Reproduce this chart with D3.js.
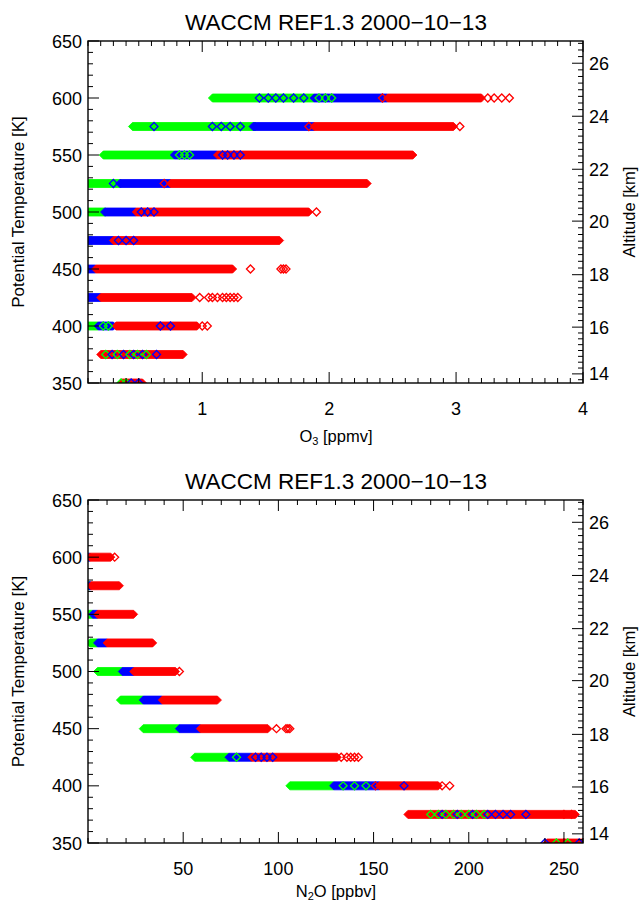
<!DOCTYPE html>
<html>
<head>
<meta charset="utf-8">
<script src="https://cdn.jsdelivr.net/npm/d3@7"></script>
<style>
  html, body { margin: 0; padding: 0; background: #fff; }
  svg { display: block; font-family: "Liberation Sans", Arial, Helvetica, sans-serif; }
</style>
</head>
<body>
<svg id="chart" width="640" height="905"></svg>
<script>
// Potential temperature levels (K), one row of markers per level
const thetaLevels = [600, 575, 550, 525, 500, 475, 450, 425, 400, 375, 350];

// O3 (ppmv): extent of the dense marker runs per level and colour
const o3GreenLo = [1.08, 0.45, 0.22, 0.10, 0.10, 0.10, null, null, 0.10, null, null];
const o3GreenHi = [1.88, 1.42, 0.78, 0.36, 0.24, 0.13, null, null, 0.18, null, null];
const o3BlueLo  = [1.88, 1.40, 0.78, 0.35, 0.23, 0.10, 0.10, 0.10, 0.18, null, null];
const o3BlueHi  = [2.46, 1.88, 1.12, 0.75, 0.48, 0.30, 0.16, 0.20, 0.30, null, null];
const o3RedLo   = [2.46, 1.88, 1.12, 0.75, 0.48, 0.30, 0.16, 0.20, 0.32, 0.20, 0.36];
const o3RedHi   = [3.20, 2.98, 2.66, 2.30, 1.84, 1.61, 1.24, 0.92, 0.96, 0.85, 0.53];

// O3 (ppmv): individual markers [theta, value, colour]
const o3Points = [
  [600, 1.45, "b"], [600, 1.52, "b"], [600, 1.58, "b"], [600, 1.64, "b"], [600, 1.72, "b"],
  [600, 1.80, "b"], [600, 1.92, "g"], [600, 1.97, "g"], [600, 2.02, "g"],
  [600, 2.42, "r"], [600, 3.25, "r"], [600, 3.30, "r"], [600, 3.36, "r"], [600, 3.42, "r"],
  [575, 0.62, "b"], [575, 1.08, "b"], [575, 1.15, "b"], [575, 1.22, "b"], [575, 1.30, "b"],
  [575, 1.84, "r"], [575, 3.03, "r"],
  [550, 0.82, "g"], [550, 0.86, "g"], [550, 0.90, "g"],
  [550, 1.16, "b"], [550, 1.20, "b"], [550, 1.25, "b"], [550, 1.30, "b"],
  [525, 0.30, "b"], [525, 0.70, "r"],
  [500, 0.52, "b"], [500, 0.57, "b"], [500, 0.62, "b"], [500, 1.90, "r"],
  [475, 0.34, "b"], [475, 0.40, "b"], [475, 0.46, "b"],
  [450, 1.38, "r"], [450, 1.62, "r"], [450, 1.64, "r"], [450, 1.66, "r"],
  [425, 0.98, "r"], [425, 1.05, "r"], [425, 1.08, "r"], [425, 1.12, "r"], [425, 1.16, "r"],
  [425, 1.19, "r"], [425, 1.22, "r"], [425, 1.25, "r"], [425, 1.28, "r"],
  [400, 0.22, "g"], [400, 0.26, "g"], [400, 0.67, "b"], [400, 0.75, "b"],
  [400, 1.00, "r"], [400, 1.04, "r"],
  [375, 0.24, "g"], [375, 0.29, "b"], [375, 0.33, "g"], [375, 0.38, "b"], [375, 0.43, "g"],
  [375, 0.46, "b"], [375, 0.49, "g"], [375, 0.53, "b"], [375, 0.56, "g"], [375, 0.64, "b"],
  [350, 0.36, "g"], [350, 0.40, "g"], [350, 0.44, "b"], [350, 0.50, "b"]
];

// N2O (ppbv): extent of the dense marker runs per level and colour
const n2oGreenLo = [null, 0.0, 0.0, 1.0, 5.0, 17, 29, 56, 106, null, null];
const n2oGreenHi = [null, 1.0, 2.5, 5.0, 18, 29, 48, 74, 129, null, null];
const n2oBlueLo  = [0.0, 0.5, 2.5, 5.0, 18, 29, 48, 74, 129, null, null];
const n2oBlueHi  = [1.0, 1.5, 5.0, 10, 24, 39, 59, 86, 153, null, null];
const n2oRedLo   = [1.0, 1.5, 5.0, 10, 24, 39, 59, 86, 153, 168, 241];
const n2oRedHi   = [12, 16.5, 24, 34, 46, 68, 94.5, 131, 184, 256, 262];

// N2O (ppbv): individual markers [theta, value, colour]
const n2oPoints = [
  [600, 14, "r"], [500, 48, "r"],
  [450, 99, "r"], [450, 104, "r"], [450, 105, "r"], [450, 106, "r"],
  [425, 78, "g"], [425, 88, "b"], [425, 91, "b"], [425, 94, "b"], [425, 97, "b"],
  [425, 133, "r"], [425, 136, "r"], [425, 138, "r"], [425, 140, "r"], [425, 142, "r"],
  [400, 134, "g"], [400, 140, "g"], [400, 146, "g"], [400, 151, "r"], [400, 166, "b"],
  [400, 186, "r"], [400, 190, "r"],
  [375, 180, "g"], [375, 184, "g"], [375, 186, "b"], [375, 188, "g"], [375, 192, "g"],
  [375, 194, "b"], [375, 196, "g"], [375, 200, "g"], [375, 202, "b"], [375, 204, "g"],
  [375, 208, "g"], [375, 210, "b"], [375, 214, "b"], [375, 218, "b"], [375, 222, "b"],
  [375, 230, "b"], [375, 250, "r"], [375, 254, "r"],
  [350, 240, "b"], [350, 246, "g"], [350, 250, "r"], [350, 252, "g"], [350, 258, "b"]
];

// Axis ticks
const thetaMajor = [350, 400, 450, 500, 550, 600, 650];
const o3Major = [1, 2, 3, 4];
const n2oMajor = [50, 100, 150, 200, 250];
const altMajor = [14, 16, 18, 20, 22, 24, 26];
// Altitude (km) against potential temperature (K) for the right-hand axis
const altKm    = [14, 16, 18, 20, 22, 24, 26];
const altTheta = [358, 399, 445, 492, 537.5, 584, 630.5];

const titleText = "WACCM REF1.3 2000\u221210\u221213";
const colours = { r: "#ff0000", g: "#00ff00", b: "#0000ff" };

const svg = d3.select("#chart");

function drawPanel(opt) {
  const x = d3.scaleLinear().domain(opt.xDomain).range([88, 583]);
  const y = d3.scaleLinear().domain([350, 650]).range([opt.bottom, opt.top]);
  const alt = d3.scaleLinear().domain(altKm).range(altTheta);
  const g = svg.append("g");
  const clipId = "clip" + opt.id;

  g.append("clipPath").attr("id", clipId)
    .append("rect").attr("x", 88).attr("y", opt.top)
    .attr("width", 495).attr("height", opt.bottom - opt.top);

  const marks = g.append("g").attr("clip-path", `url(#${clipId})`);
  const h = 4;

  // dense runs drawn as diamond-capped strips
  const bands = [];
  ["g", "b", "r"].forEach(c => {
    const lo = opt.lo[c], hi = opt.hi[c];
    thetaLevels.forEach((t, i) => {
      if (lo[i] != null) bands.push({ t, lo: lo[i], hi: hi[i], c });
    });
  });
  marks.selectAll("path.band").data(bands).join("path")
    .attr("class", "band")
    .attr("d", d => {
      const x0 = x(d.lo), x1 = x(d.hi), yy = y(d.t);
      return `M${x0 - h},${yy}L${x0},${yy - h}L${x1},${yy - h}L${x1 + h},${yy}L${x1},${yy + h}L${x0},${yy + h}Z`;
    })
    .attr("fill", d => colours[d.c])
    .attr("stroke", d => colours[d.c])
    .attr("stroke-width", 0.8);

  // single open diamonds
  marks.selectAll("path.pt").data(opt.points).join("path")
    .attr("class", "pt")
    .attr("d", d => {
      const cx = x(d[1]), cy = y(d[0]);
      return `M${cx - h},${cy}L${cx},${cy - h}L${cx + h},${cy}L${cx},${cy + h}Z`;
    })
    .attr("fill", "none")
    .attr("stroke", d => colours[d[2]])
    .attr("stroke-width", 1.3);

  const axisCol = "#000";
  const frame = g.append("g");
  frame.append("rect").attr("x", 88).attr("y", opt.top)
    .attr("width", 495).attr("height", opt.bottom - opt.top)
    .attr("fill", "none").attr("stroke", axisCol).attr("stroke-width", 1.4);

  // x ticks (bottom and top)
  const xMinor = d3.range(opt.xDomain[0], opt.xDomain[1] + 1e-9, opt.xMinorStep)
    .map(v => +v.toFixed(6));
  const isMajor = v => opt.xMajor.some(m => Math.abs(m - v) < 1e-6);
  const xt = frame.append("g");
  xMinor.forEach(v => {
    const len = isMajor(v) ? 11 : 5;
    xt.append("line").attr("x1", x(v)).attr("x2", x(v))
      .attr("y1", opt.bottom).attr("y2", opt.bottom - len)
      .attr("stroke", axisCol).attr("stroke-width", 1);
    xt.append("line").attr("x1", x(v)).attr("x2", x(v))
      .attr("y1", opt.top).attr("y2", opt.top + len)
      .attr("stroke", axisCol).attr("stroke-width", 1);
  });
  frame.append("g").selectAll("text").data(opt.xMajor).join("text")
    .attr("x", d => x(d)).attr("y", opt.bottom + 32)
    .attr("text-anchor", "middle").attr("font-size", 18)
    .text(d => d);

  // theta ticks (left)
  d3.range(350, 651, 10).forEach(v => {
    const len = v % 50 === 0 ? 11 : 5;
    frame.append("line").attr("x1", 88).attr("x2", 88 + len)
      .attr("y1", y(v)).attr("y2", y(v))
      .attr("stroke", axisCol).attr("stroke-width", 1);
  });
  frame.append("g").selectAll("text").data(thetaMajor).join("text")
    .attr("x", 82).attr("y", d => y(d) + 6.5)
    .attr("text-anchor", "end").attr("font-size", 18)
    .text(d => d);

  // altitude ticks (right)
  d3.range(13.5, 27.01, 0.25).forEach(km => {
    const t = alt(km);
    if (t < 350 || t > 650) return;
    const len = Math.abs(km % 2) < 1e-6 ? 11 : 5;
    frame.append("line").attr("x1", 583).attr("x2", 583 - len)
      .attr("y1", y(t)).attr("y2", y(t))
      .attr("stroke", axisCol).attr("stroke-width", 1);
  });
  frame.append("g").selectAll("text").data(altMajor).join("text")
    .attr("x", 589).attr("y", d => y(alt(d)) + 6.5)
    .attr("text-anchor", "start").attr("font-size", 18)
    .text(d => d);

  // titles
  g.append("text").attr("x", 336).attr("y", opt.top - 11)
    .attr("text-anchor", "middle").attr("font-size", 22.5)
    .text(titleText);

  const mid = (opt.top + opt.bottom) / 2;
  g.append("text")
    .attr("transform", `translate(24,${mid}) rotate(-90)`)
    .attr("text-anchor", "middle").attr("font-size", 17)
    .text("Potential Temperature [K]");
  g.append("text")
    .attr("transform", `translate(635,${mid}) rotate(-90)`)
    .attr("text-anchor", "middle").attr("font-size", 16.5)
    .text("Altitude [km]");

  const xl = g.append("text").attr("x", 336).attr("y", opt.bottom + opt.xLabelGap)
    .attr("text-anchor", "middle").attr("font-size", 16.5);
  xl.append("tspan").text(opt.xLabel[0]);
  xl.append("tspan").attr("font-size", 11).attr("dy", 3).text(opt.xLabel[1]);
  xl.append("tspan").attr("dy", -3).text(opt.xLabel[2]);
}

drawPanel({
  id: "o3", top: 41, bottom: 383,
  xDomain: [0.1, 4], xMinorStep: 0.1, xMajor: o3Major,
  lo: { g: o3GreenLo, b: o3BlueLo, r: o3RedLo },
  hi: { g: o3GreenHi, b: o3BlueHi, r: o3RedHi },
  points: o3Points,
  xLabel: ["O", "3", " [ppmv]"], xLabelGap: 59
});

drawPanel({
  id: "n2o", top: 500, bottom: 843,
  xDomain: [0, 260], xMinorStep: 10, xMajor: n2oMajor,
  lo: { g: n2oGreenLo, b: n2oBlueLo, r: n2oRedLo },
  hi: { g: n2oGreenHi, b: n2oBlueHi, r: n2oRedHi },
  points: n2oPoints,
  xLabel: ["N", "2", "O [ppbv]"], xLabelGap: 54
});
</script>
</body>
</html>
